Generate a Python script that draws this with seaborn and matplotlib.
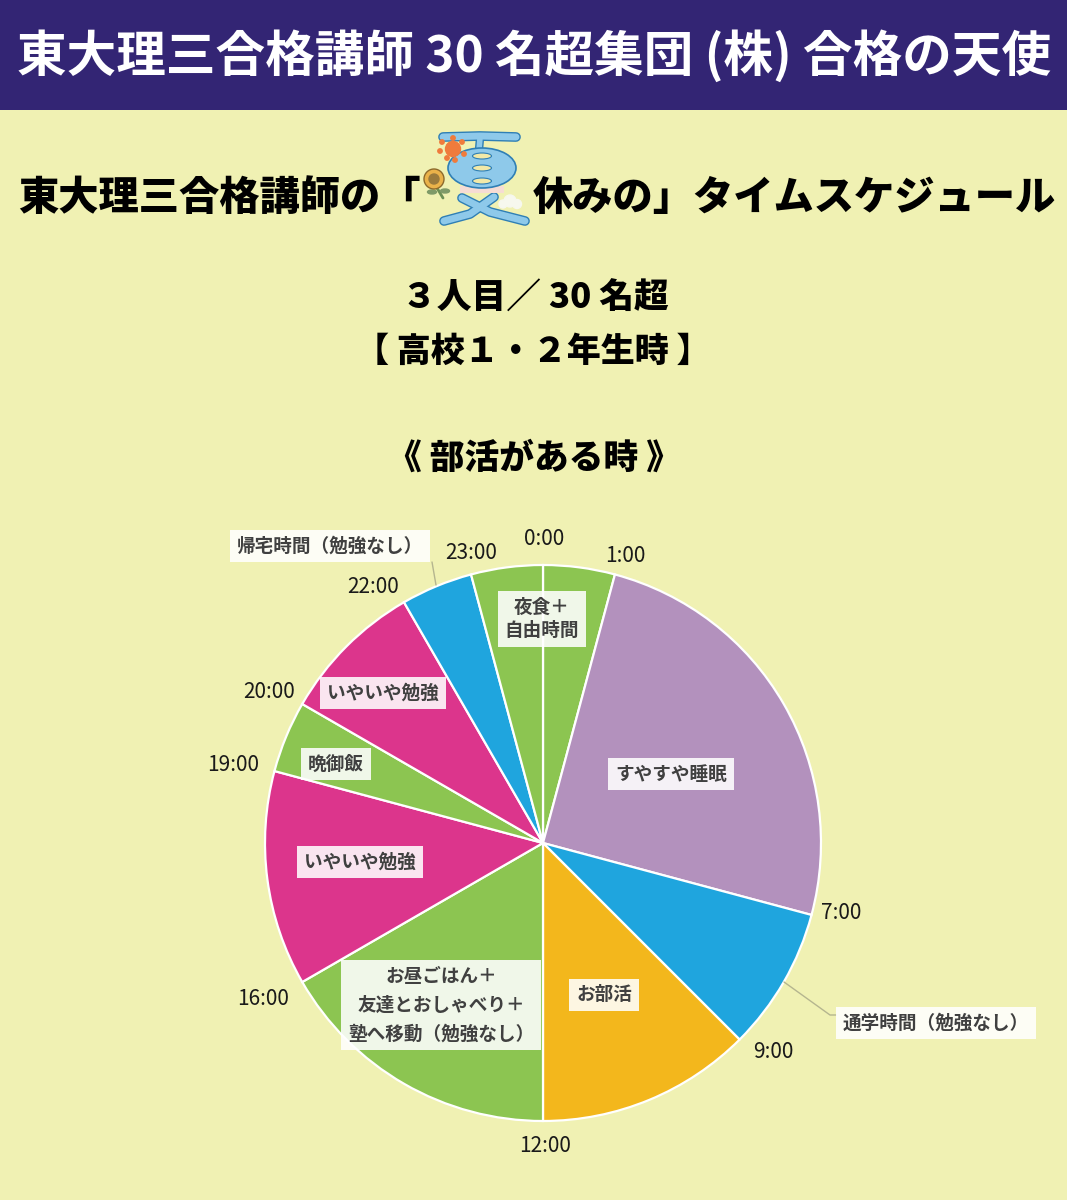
"""Summer-holiday time schedule pie chart (club activity days)."""
import matplotlib.pyplot as plt
from matplotlib.patches import Circle, Ellipse, Rectangle
import seaborn as sns

# Data
HOURS = [1, 6, 2, 3, 4, 3, 1, 2, 1, 1]
TIME_LABELS = ["0:00", "1:00", "7:00", "9:00", "12:00", "16:00", "19:00", "20:00", "22:00", "23:00"]
SLICE_LABELS = [
    "夜食＋\n自由時間",
    "すやすや睡眠",
    "通学時間（勉強なし）",
    "お部活",
    "お昼ごはん＋\n友達とおしゃべり＋\n塾へ移動（勉強なし）",
    "いやいや勉強",
    "晩御飯",
    "いやいや勉強",
    "帰宅時間（勉強なし）",
]

# Colours and layout (pixels of the 1067x1200 canvas)
BG = "#f0f1b3"
NAVY = "#332574"
GREEN = "#8cc551"
PURPLE = "#b391bd"
BLUE = "#1fa5de"
ORANGE = "#f3b71c"
PINK = "#dc358c"
ICON_BLUE = "#8ec9ea"
ICON_EDGE = "#2f7fb5"
SLICE_COLORS = [GREEN, PURPLE, BLUE, ORANGE, GREEN, PINK, GREEN, PINK, BLUE, GREEN]
CX, CY, R = 543, 843, 278
TIME_POS = [(544, 539), (625, 556), (841, 913), (773, 1052), (545, 1146),
            (263, 999), (233, 765), (269, 692), (373, 587), (471, 553)]
LABEL_POS = [(542, 619), (671, 774), (936, 1023), (604, 995), (441, 1005),
             (360, 862), (336, 764), (383, 693), (330, 546)]
LINE_SPACING = [1.3, 1, 1, 1, 1.65, 1, 1, 1, 1]

sns.set_theme(style="white")
plt.rcParams["font.family"] = ["Noto Sans CJK JP", "DejaVu Sans"]

fig = plt.figure(figsize=(10.67, 12), dpi=100, facecolor=BG)

# Canvas for the text and decoration, in pixel coordinates
canvas = fig.add_axes([0, 0, 1, 1])
canvas.set_xlim(0, 1067)
canvas.set_ylim(1200, 0)
canvas.axis("off")

canvas.add_patch(Rectangle((0, 0), 1067, 110, color=NAVY, lw=0))
canvas.text(534, 56, "東大理三合格講師 30 名超集団 (株) 合格の天使", color="white",
            fontsize=35.7, fontweight="bold", ha="center", va="center")

# Title around the 夏 icon
canvas.text(18, 198, "東大理三合格講師の「", fontsize=29, fontweight="black",
            color="black", ha="left", va="center")
canvas.text(1056, 198, "休みの」タイムスケジュール", fontsize=29, fontweight="black",
            color="black", ha="right", va="center")


def icon_stroke(xs, ys, width):
    canvas.plot(xs, ys, color=ICON_EDGE, lw=width + 2, solid_capstyle="round", zorder=3)
    canvas.plot(xs, ys, color=ICON_BLUE, lw=width, solid_capstyle="round", zorder=3.2)


# The 夏 icon: top bar, round body with three windows, crossed legs
icon_stroke([443, 480, 516], [137, 136, 137], 5)
icon_stroke([480, 479], [138, 150], 4)
icon_stroke([444, 470, 494], [221, 214, 197], 5)
icon_stroke([462, 490, 525], [198, 212, 221], 5)
canvas.add_patch(Ellipse((482, 168), 68, 40, fc=ICON_BLUE, ec=ICON_EDGE, lw=1.2, zorder=3.4))
canvas.add_patch(Rectangle((460, 186), 44, 7, fc="#f6dcd4", lw=0, zorder=3.1))
for y in [156, 168, 181]:
    canvas.add_patch(Ellipse((482, y), 19, 6, fc="#f2e9a8", ec=ICON_EDGE, lw=0.8, zorder=3.6))

# Sun, sunflower and cloud on the icon
canvas.add_patch(Circle((453, 149), 7.5, color="#ef7b3c", zorder=4))
for dx, dy in [(-11, -7), (-13, 2), (-6, 9), (2, 11), (11, 5), (9, -7), (0, -11)]:
    canvas.add_patch(Circle((453 + dx, 149 + dy), 2.2, color="#ef7b3c", zorder=4))
canvas.plot([437, 443], [188, 198], color="#6d8f55", lw=2, zorder=4)
canvas.add_patch(Ellipse((432, 192), 9, 4, color="#7f9a68", zorder=4))
canvas.add_patch(Ellipse((445, 191), 9, 4, color="#7f9a68", zorder=4))
canvas.add_patch(Circle((434, 179), 10, fc="#eab24a", ec="#8d6a2c", lw=1, zorder=4))
canvas.add_patch(Circle((434, 179), 5, color="#9a7a3c", zorder=5))
for x, y, r in [(503, 204, 4), (510, 201, 6), (517, 204, 4.5)]:
    canvas.add_patch(Circle((x, y), r, color="#f7f8ee", zorder=4))

canvas.text(535, 298, "３人目／ 30 名超", fontsize=25, fontweight="black", color="black",
            ha="center", va="center")
canvas.text(533, 351, "【 高校１・２年生時 】", fontsize=24.5, fontweight="black", color="black",
            ha="center", va="center")
canvas.text(534, 458, "《 部活がある時 》", fontsize=25, fontweight="black", color="black",
            ha="center", va="center")

# The pie itself
pad = 1.02
ax = fig.add_axes([(CX - R * pad) / 1067, 1 - (CY + R * pad) / 1200,
                   2 * R * pad / 1067, 2 * R * pad / 1200])
ax.pie(HOURS, colors=SLICE_COLORS, startangle=90, counterclock=False, radius=1,
       wedgeprops={"edgecolor": "white", "linewidth": 1.6})
ax.set_xlim(-pad, pad)
ax.set_ylim(-pad, pad)

# Overlay for labels, above the pie
top = fig.add_axes([0, 0, 1, 1], facecolor="none")
top.set_xlim(0, 1067)
top.set_ylim(1200, 0)
top.axis("off")

top.plot([784, 830, 836], [982, 1015, 1015], color="#b5b58f", lw=1)
top.plot([432, 436], [562, 585], color="#b5b58f", lw=1)

for (x, y), label in zip(TIME_POS, TIME_LABELS):
    top.text(x, y, label, fontsize=15, color="#1a1a1a", ha="center", va="center")

for (x, y), label, spacing in zip(LABEL_POS, SLICE_LABELS, LINE_SPACING):
    top.text(x, y, label, fontsize=13.4, fontweight="bold", color="#404040", ha="center",
             va="center", linespacing=spacing,
             bbox={"facecolor": "white", "alpha": 0.88, "edgecolor": "none", "pad": 5})

fig.savefig("out.png", dpi=100, facecolor=BG)
